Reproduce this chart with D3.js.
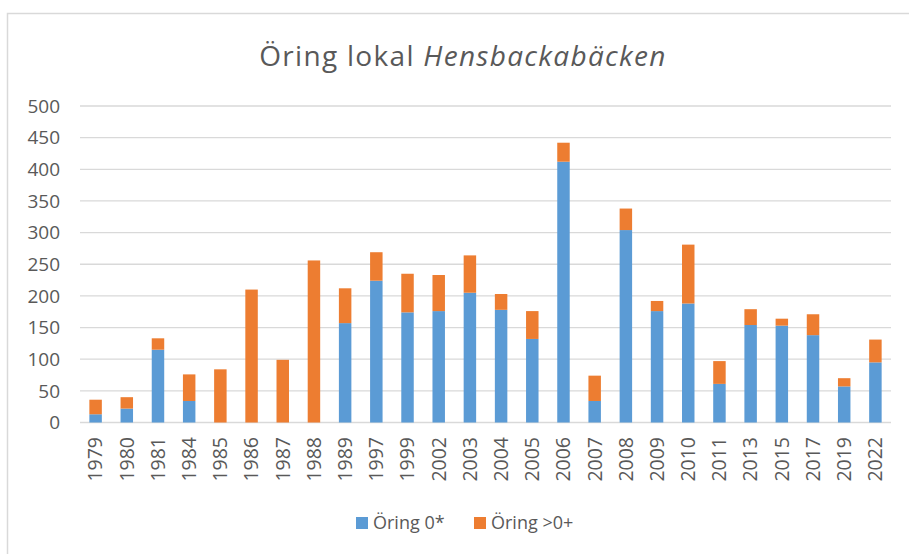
<!DOCTYPE html>
<html>
<head>
<meta charset="utf-8">
<script src="https://cdn.jsdelivr.net/npm/d3@7"></script>
<style>
body{margin:0;background:#fff;}
text{font-family:"Open Sans","Noto Sans",sans-serif;fill:#595959;}
</style>
</head>
<body>
<script>
/* stacked bars, Öring per year */
var years = ["1979","1980","1981","1984","1985","1986","1987","1988","1989","1997","1999","2002","2003","2004","2005","2006","2007","2008","2009","2010","2011","2013","2015","2017","2019","2022"];
var oring0 = [13,22,115,34,0,0,0,0,157,224,174,176,205,178,132,412,34,304,176,188,61,154,153,138,57,95];
var oringOver = [23,18,18,42,84,210,99,256,55,45,61,57,59,25,44,30,40,34,16,93,36,25,11,33,13,36];
var yTicks = [0,50,100,150,200,250,300,350,400,450,500];
var seriesNames = ["Öring 0*","Öring >0+"];
var colors = ["#5b9bd5","#ed7d31"];

var width = 909, height = 554;
var svg = d3.select("body").append("svg").attr("width",width).attr("height",height);

// outer chart border (cut on right and bottom like the screenshot)
svg.append("rect").attr("x",7.5).attr("y",13.5).attr("width",1000).attr("height",1000)
	.attr("fill","none").attr("stroke","#d9d9d9").attr("stroke-width",1.5);

var plotL = 80, plotR = 891, plotT = 106, plotB = 422.5;

var x = d3.scaleBand().domain(years).range([plotL,plotR]).paddingInner(0.6).paddingOuter(0.3);
var y = d3.scaleLinear().domain([0,500]).range([plotB,plotT]);

// grid
svg.selectAll(".grid").data(yTicks).enter().append("line")
	.attr("x1",plotL).attr("x2",plotR)
	.attr("y1",function(d){return y(d);}).attr("y2",function(d){return y(d);})
	.attr("stroke","#d9d9d9").attr("stroke-width",1.3);

svg.selectAll(".ylab").data(yTicks).enter().append("text")
	.attr("x",60).attr("y",function(d){return y(d);})
	.attr("dy","0.35em").attr("text-anchor","end")
	.attr("font-size","19px").text(function(d){return d;});

var rows = years.map(function(yr,i){return {year:yr,a:oring0[i],b:oringOver[i]};});
var stack = d3.stack().keys(["a","b"])(rows);

svg.selectAll(".series").data(stack).enter().append("g")
	.attr("fill",function(d,i){return colors[i];})
	.selectAll("rect").data(function(d){return d;}).enter().append("rect")
	.attr("x",function(d){return x(d.data.year);})
	.attr("width",x.bandwidth())
	.attr("y",function(d){return y(d[1]);})
	.attr("height",function(d){return y(d[0])-y(d[1]);});

// x labels rotated
svg.selectAll(".xlab").data(years).enter().append("text")
	.attr("transform",function(d){return "translate("+(x(d)+x.bandwidth()/2)+",437) rotate(-90)";})
	.attr("text-anchor","end").attr("dy","0.35em")
	.attr("font-size","19.5px").text(function(d){return d;});

// title
var title = svg.append("text").attr("x",463).attr("y",66).attr("text-anchor","middle")
	.attr("font-size","28px").attr("letter-spacing","1.3px");
title.append("tspan").text("Öring lokal ");
title.append("tspan").attr("font-style","italic").text("Hensbackabäcken");

// legend
var legX = [356,474];
var leg = svg.selectAll(".leg").data(seriesNames).enter().append("g")
	.attr("transform",function(d,i){return "translate("+legX[i]+",523)";});
leg.append("rect").attr("x",0).attr("y",-6).attr("width",12).attr("height",12).attr("fill",function(d,i){return colors[i];});
leg.append("text").attr("x",17).attr("dy","0.35em").attr("font-size","18px").text(function(d){return d;});
</script>
</body>
</html>
